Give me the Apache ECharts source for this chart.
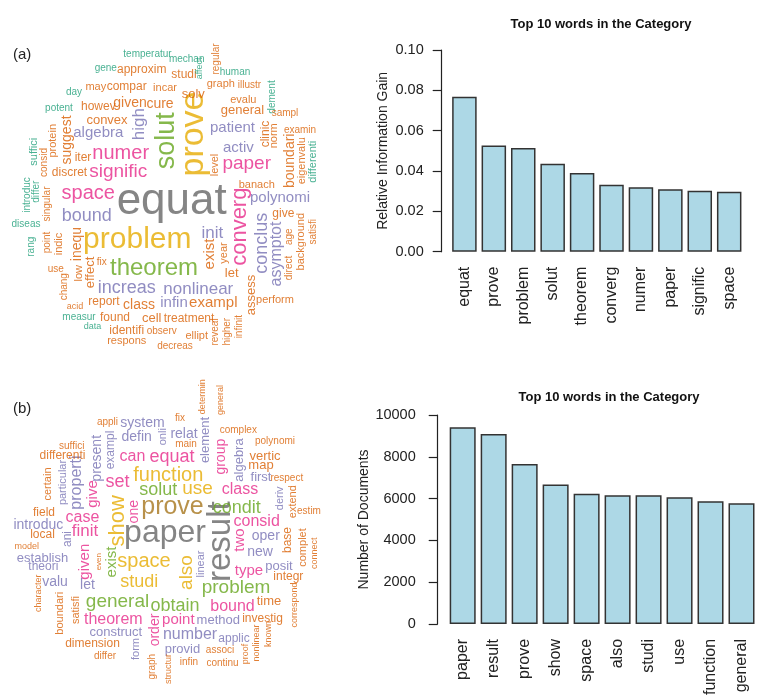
<!DOCTYPE html>
<html><head><meta charset="utf-8">
<script src="https://cdn.jsdelivr.net/npm/echarts@6/dist/echarts.min.js"></script>
<style>html,body{margin:0;padding:0;background:#fff}#c{width:757px;height:698px}</style>
</head><body><div id="c"></div>
<script>
// ---- Bar chart data ----
const catsA = ['equat','prove','problem','solut','theorem','converg','numer','paper','signific','space'];
const valsA = [0.0768,0.0526,0.0514,0.0436,0.0390,0.0332,0.0319,0.0309,0.0302,0.0297];
const ticksA = [0,0.02,0.04,0.06,0.08,0.10];
const catsB = ['paper','result','prove','show','space','also','studi','use','function','general'];
const valsB = [9412,9092,7659,6670,6226,6162,6160,6068,5877,5781];
const ticksB = [0,2000,4000,6000,8000,10000];

// ---- Word cloud words ----
const wordsA = ['equat','problem','prove','solut','theorem','converg','numer','signific','space','paper','bound','increas','nonlinear','init','conclus','asymptot','polynomi','algebra','high','patient','activ','infin','exampl','exist','year','let','give','assess','perform','direct','age','background','satisfi','cell','treatment','ellipt','decreas','reveal','higher','infinit','observ','identifi','respons','found','data','measur','report','class','acid','chang','low','effect','fix','use','inequ','indic','point','rang','diseas','singular','introduc','differ','suffici','consid','protein','suggest','iter','discret','convex','given','cure','howev','potent','day','may','compar','incar','solv','approxim','gene','temperatur','mechan','studi','affect','regular','human','graph','illustr','evalu','general','level','banach','dement','sampl','clinic','norm','examin','boundari','eigenvalu','differenti'];
const wordsB = ['paper','result','prove','show','space','studi','also','function','use','solut','condit','general','obtain','problem','exist','can','equat','set','class','consid','two','type','bound','case','finit','give','given','theorem','point','order','one','group','method','number','applic','provid','construct','form','linear','posit','new','oper','deriv','first','algebra','element','relat','onli','defin','system','exampl','present','properti','particular','introduc','ani','establish','theori','valu','let','graph','structur','infin','associ','continu','proof','nonlinear','known','correspond','investig','time','integr','base','complet','connect','extend','estim','respect','map','vertic','polynomi','complex','determin','general','fix','main','appli','suffici','differenti','certain','field','local','model','character','even','boundari','satisfi','dimension','differ'];

// ---- Word cloud layout: [x, y, fontSize, colourIndex, vertical] ----
const layoutA = [[171.7,201.7,44,0,0],[137.3,240,30,2,0],[193.3,134,34,2,1],[166.7,140.8,27,3,1],[154,268.3,24,3,0],[240,226.7,22,4,1],[120.7,153.3,20,4,0],[118.3,171.7,19,4,0],[88.3,193.3,20,4,0],[246.7,164,19,4,0],[86.7,215.7,18,5,0],[126.7,288.3,18,5,0],[198.3,289,17,5,0],[212.3,233.3,17,5,0],[261.7,243.3,18,5,1],[276.7,254,16,5,1],[280,198.3,15,5,0],[98.3,133.3,15,5,0],[139.7,124.2,17,5,1],[232.5,128.3,15,5,0],[238.3,147.5,15,5,0],[174,303.3,15,5,0],[213.3,302.7,15,6,0],[210,254,15,6,1],[224,253,11,6,1],[231.7,273.3,13,6,0],[283.3,213.3,12,6,0],[251.7,295,13,6,1],[275,300,11,6,0],[289,268,10,6,1],[289,236.7,10,6,1],[300.7,241.7,11,6,1],[313.3,231.7,10,6,1],[151.7,318.3,13,6,0],[189,318.3,12,6,0],[196.7,335.7,11,6,0],[175,346.7,10,6,0],[215.7,332,10,6,1],[227.7,331.7,10,6,1],[239,326.7,10,6,1],[161.7,330.8,10,6,0],[126.7,330.8,12,6,0],[126.7,341,11,6,0],[115,317.7,12,6,0],[92.5,327,9,7,0],[79,317,10,7,0],[104,301.7,12,6,0],[139,305,14,6,0],[75,306.7,9,6,0],[64,286.7,10,6,1],[79,273.3,11,6,1],[90,272.5,13,6,1],[101.7,262.5,10,6,0],[55.8,269,10,6,0],[76.7,244,14,6,1],[59,244,11,6,1],[47.5,242.5,10,6,1],[31,246.7,10,7,1],[26,224,10,7,0],[47.5,204,10,6,1],[27.5,195,10,7,1],[35.8,191.7,10,7,1],[34,151.7,11,7,1],[44,162.5,10,6,1],[53.3,140.8,11,6,1],[66.7,140,14,6,1],[83,157.5,12,6,0],[69.5,172.5,12,6,0],[107,120.8,13,6,0],[130,103.3,14,6,0],[160,104,14,6,0],[98.3,106.7,12,6,0],[59,107.8,10,7,0],[74,92.5,10,7,0],[95.8,86.7,11,6,0],[126.7,86.7,12,6,0],[165,88.3,11,6,0],[193.3,94,13,6,0],[141.7,70,12,6,0],[105.8,68.3,10,7,0],[147.5,54,10,7,0],[186.7,59,10,7,0],[184,75,12,6,0],[200,68.3,9,7,1],[215.8,59,10,6,1],[235,72.5,10,7,0],[220.8,84,11,6,0],[249.5,85,10,6,0],[243.3,100,11,6,0],[242.5,110.8,13,6,0],[215,165,11,6,1],[256.7,185,11,6,0],[272.5,97,10,7,1],[285,113.3,10,6,0],[265.8,134,12,6,1],[274,135.8,11,6,1],[300,130,10,6,0],[290,160.8,14,6,1],[301.7,160.8,11,6,1],[312.5,161.7,11,7,1]];
const layoutB = [[165,533.3,32,0,0],[220.7,541.7,33,0,1],[172.5,506.7,25,1,0],[118.3,520.8,22,2,1],[144,561,20,2,0],[139.2,581.7,18,2,0],[186.7,572.5,19,2,1],[168.3,475,20,2,0],[197.5,489.2,19,2,0],[158.3,490,18,3,0],[236.7,508.3,18,3,0],[117.5,601.7,19,3,0],[175,605.8,18,3,0],[236,587.5,19,3,0],[112,562,15,3,1],[132.5,456.7,16,4,0],[172,456.7,18,4,0],[117.5,481.7,18,4,0],[240,489.2,16,4,0],[256.7,521.7,16,4,0],[240,540,15,4,1],[249,570.8,15,4,0],[232.5,606.7,16,4,0],[82.5,517.5,16,4,0],[85,531.7,17,4,0],[93.3,494,15,4,1],[85,561.7,15,4,1],[113.3,620,16,4,0],[178.3,620,15,4,0],[155,630,14,4,1],[134,511.7,14,4,1],[220.8,456.7,14,4,1],[218.3,620.8,13,5,0],[190,635,16,5,0],[234,638.3,12,5,0],[182.5,649,13,5,0],[115.8,632.5,13,5,0],[135.8,649,11,5,1],[200.8,564,11,5,1],[279,566.7,13,5,0],[260,551.7,14,5,0],[265.8,535.8,14,5,0],[280,498.3,11,5,1],[261,477.5,13,5,0],[239,460,13,5,1],[205.8,440,13,5,1],[184,434,14,5,0],[162.5,436.7,11,5,1],[136.7,436.7,14,5,0],[142.5,423.3,14,5,0],[110.8,450,12,5,1],[97.5,458.3,14,5,1],[76.7,482.5,16,5,1],[62.5,482.5,11,5,1],[38.3,525,14,5,0],[67.5,539,12,5,1],[42.5,558.3,13,5,0],[43.3,567,12,5,0],[55,581.7,14,5,0],[87.5,585,14,5,0],[152.5,666.7,10,6,1],[169,669,9,6,1],[189,662.5,10,6,0],[220,650,10,6,0],[222.5,663.3,10,6,0],[246,654,9,6,1],[256.7,643,9,6,1],[268.3,634,9,6,1],[295,605,9,6,1],[262.5,618.3,12,6,0],[269,601.7,13,6,0],[288.3,576.7,12,6,0],[287.5,540,12,6,1],[302.5,547.5,11,6,1],[315,553.3,9,6,1],[293.3,501.7,11,6,1],[309,510.8,10,6,0],[286.8,478.3,10,6,0],[261,465,13,6,0],[265,456.7,13,6,0],[275,440.8,10,6,0],[238.3,430,10,6,0],[202.5,396.7,9,6,1],[220.8,400,9,6,1],[180,418.3,10,6,0],[186,444,10,6,0],[107.5,422.5,10,6,0],[71.7,446.7,10,6,0],[62.5,455.8,12,6,0],[47.5,484,11,6,1],[44,512.5,12,6,0],[42.5,535,12,6,0],[26.7,546.7,9,6,0],[38.3,593.3,9,6,1],[98.3,561.7,8,6,1],[60,613.3,11,6,1],[75.8,610,11,6,1],[92.5,643.3,12,6,0],[105,656.7,10,6,0]];

const palette = ['#666666','#A6761D','#E6AB02','#66A61E','#E7298A','#7570B3','#D95F02','#1B9E77'];
const FONT = '"Liberation Sans", Arial, sans-serif';

function cloudSeries(words, layout) {
  return {
    type: 'scatter', xAxisIndex: 0, yAxisIndex: 0, symbolSize: 1, silent: true,
    itemStyle: { color: 'rgba(0,0,0,0)' },
    label: { show: true, position: 'inside', formatter: p => p.name, fontFamily: FONT, align: 'center', verticalAlign: 'middle' },
    data: words.map((w, i) => ({
      name: w, value: [layout[i][0], layout[i][1]],
      label: { fontSize: layout[i][2], color: palette[layout[i][3]], rotate: layout[i][4] ? 90 : 0 }
    }))
  };
}

const axisCommon = {
  axisLine: { show: true, lineStyle: { color: '#222', width: 1.2 } },
  axisTick: { show: true, length: 9, lineStyle: { color: '#222', width: 1.2 } },
  splitLine: { show: false },
  nameTextStyle: { fontFamily: FONT, fontSize: 14, color: '#222' }
};
const xLabel = { rotate: 90, margin: 15, fontFamily: FONT, fontSize: 16, color: '#222', interval: 0 };

const chart = echarts.init(document.getElementById('c'), null, { renderer: 'canvas' });
chart.setOption({
  animation: false,
  backgroundColor: '#fff',
  title: [
    { text: 'Top 10 words in the Category', left: 596, top: 13, textAlign: 'center', textStyle: { fontFamily: FONT, fontSize: 13, fontWeight: 'bold', color: '#111' } },
    { text: 'Top 10 words in the Category', left: 604, top: 386, textAlign: 'center', textStyle: { fontFamily: FONT, fontSize: 13, fontWeight: 'bold', color: '#111' } },
    { text: '(a)', left: 8, top: 42, textStyle: { fontFamily: FONT, fontSize: 15, fontWeight: 'normal', color: '#222' } },
    { text: '(b)', left: 8, top: 396, textStyle: { fontFamily: FONT, fontSize: 15, fontWeight: 'normal', color: '#222' } }
  ],
  grid: [
    { left: 0, top: 0, width: 757, height: 698 },
    { left: 449.7, top: 50, width: 294.2, height: 201.7 },
    { left: 447.2, top: 415, width: 312, height: 209.3 }
  ],
  xAxis: [
    { gridIndex: 0, type: 'value', min: 0, max: 757, show: false },
    { gridIndex: 1, type: 'category', data: catsA, axisLine: { show: false }, axisTick: { show: false }, axisLabel: xLabel },
    { gridIndex: 2, type: 'category', data: catsB, axisLine: { show: false }, axisTick: { show: false }, axisLabel: xLabel }
  ],
  yAxis: [
    { gridIndex: 0, type: 'value', min: 0, max: 698, inverse: true, show: false },
    Object.assign({ gridIndex: 1, type: 'value', min: ticksA[0], max: ticksA[ticksA.length - 1], interval: 0.02, offset: 8,
      name: 'Relative Information Gain', nameLocation: 'middle', nameGap: 52,
      axisLabel: { formatter: v => v.toFixed(2), fontFamily: FONT, fontSize: 14.5, color: '#222', margin: 18 } }, axisCommon),
    Object.assign({ gridIndex: 2, type: 'value', min: ticksB[0], max: ticksB[ticksB.length - 1], interval: 2000, offset: 9.5,
      name: 'Number of Documents', nameLocation: 'middle', nameGap: 66,
      axisLabel: { formatter: v => String(v), fontFamily: FONT, fontSize: 14.5, color: '#222', margin: 22 } }, axisCommon)
  ],
  series: [
    cloudSeries(wordsA, layoutA),
    cloudSeries(wordsB, layoutB),
    { type: 'bar', xAxisIndex: 1, yAxisIndex: 1, data: valsA, barWidth: 24.5, silent: true,
      itemStyle: { color: '#ADD8E6', borderColor: '#333', borderWidth: 1.5 } },
    { type: 'bar', xAxisIndex: 2, yAxisIndex: 2, data: valsB, barWidth: 26, silent: true,
      itemStyle: { color: '#ADD8E6', borderColor: '#333', borderWidth: 1.5 } }
  ]
});
</script></body></html>
